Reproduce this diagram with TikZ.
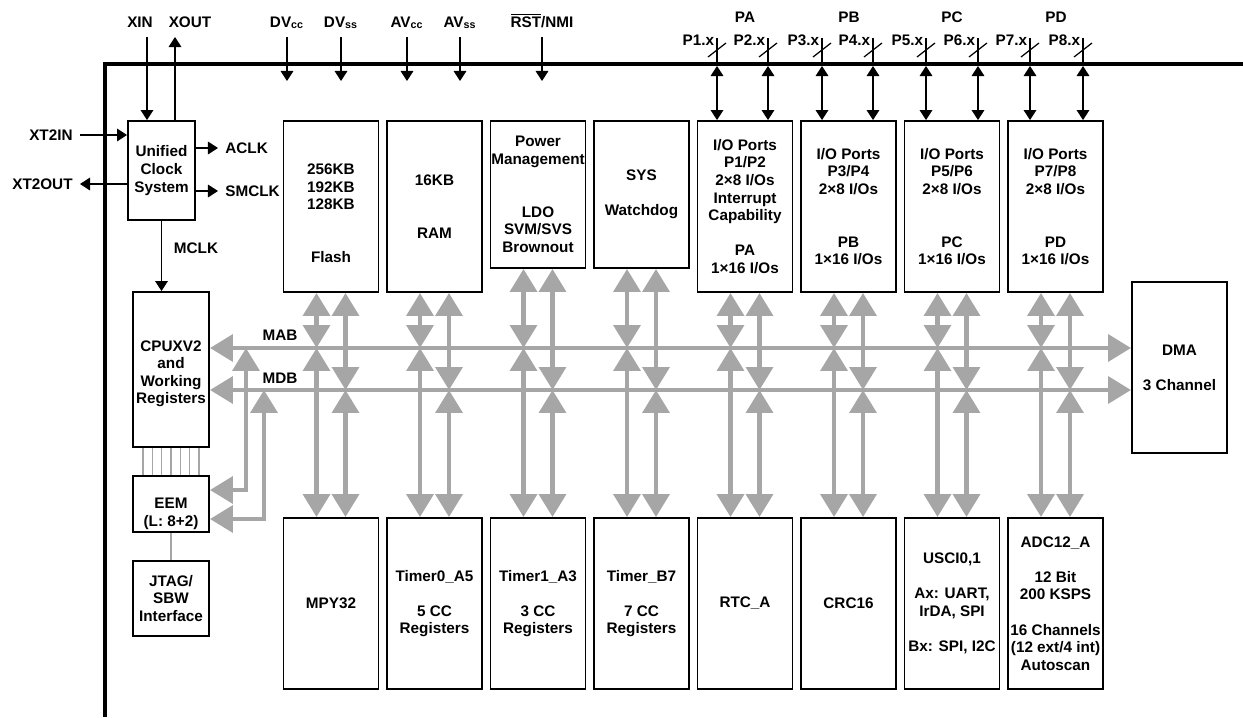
\documentclass[tikz,border=0pt]{standalone}
\usepackage{fontspec}
\setmainfont{Liberation Sans}
\usetikzlibrary{arrows.meta}
\definecolor{busgray}{RGB}{166,166,166}

\begin{document}
\begin{tikzpicture}[x = 0.02cm, y = -0.02cm, font = \fontsize{8.7}{10}\selectfont\bfseries]
\tikzstyle{blk}=[draw, line width = 1.1pt, align = center, inner sep = 0pt, minimum width = 1.9cm, minimum height = 3.42cm]
\tikzstyle{lbl}=[inner sep = 1.5pt]
\tikzstyle{arr}=[line width = 0.7pt, -{Triangle[length = 5.7pt, width = 7.2pt]}]
\tikzstyle{dblarr}=[line width = 0.7pt, {Triangle[length = 5.7pt, width = 7.2pt]}-{Triangle[length = 5.7pt, width = 7.2pt]}]
\tikzstyle{bus}=[draw = busgray, line width = 2.8pt, {Triangle[length = 13pt, width = 15pt]}-{Triangle[length = 13pt, width = 15pt]}]
\tikzstyle{dbgline}=[draw = busgray, line width = 0.6pt]
\useasboundingbox (0,0) rectangle (1243,717);
% chip outline
\draw[line width = 2.3pt] (105,717) -- (105,64) -- (1243,64);
\coordinate (chipin) at (0,66);
\coordinate (pintop) at (0,37);
\coordinate (pintip) at (0,81);
\coordinate (mab) at (0,348);
\coordinate (mdb) at (0,390);
% clock
\node[blk, minimum width = 1.34cm, minimum height = 1.98cm] (clk) at (161.5,170.5) {Unified\\Clock\\System};
\node[lbl, anchor = base] (xin) at (140,27) {XIN};
\node[lbl, anchor = base] (xout) at (190,27) {XOUT};
\coordinate (xinpin) at (147,37);
\coordinate (xoutpin) at (175,37);
\draw[arr] (xinpin) -- (xinpin |- clk.north);
\draw[arr] (xoutpin |- clk.north) -- (xoutpin);
\node[lbl, inner sep = 4pt, anchor = east] (xt2in) at (80,135) {XT2IN};
\node[lbl, inner sep = 4pt, anchor = east] (xt2out) at (80,184) {XT2OUT};
\draw[arr] (xt2in) -- (clk.west |- xt2in);
\draw[arr] (clk.west |- xt2out) -- (xt2out);
\node[lbl, inner sep = 4pt, anchor = west] (aclk) at (218,148) {ACLK};
\node[lbl, inner sep = 4pt, anchor = west] (smclk) at (218,191) {SMCLK};
\draw[arr] (clk.east |- aclk) -- (aclk);
\draw[arr] (clk.east |- smclk) -- (smclk);
% cpu side
\node[blk, minimum width = 1.52cm, minimum height = 3.1cm] (cpu) at (171,369.5) {\mbox{}\\[1pt]CPUXV2\\and\\Working\\Registers};
\node[blk, minimum width = 1.52cm, minimum height = 1.12cm] (eem) at (171,504) {\mbox{}\\[7pt]EEM\\(L: 8+2)};
\node[blk, minimum width = 1.52cm, minimum height = 1.5cm] (jtag) at (171,598.5) {JTAG/\\SBW\\Interface};
\node[lbl] (mclk) at (196,248) {MCLK};
\draw[arr] (clk.south) -- (clk.south |- cpu.north);
\foreach \k in {-3,...,3}
  \draw[dbgline] ([xshift = \k*0.1867cm]cpu.south) -- ([xshift = \k*0.1867cm]eem.north);
\draw[dbgline] (eem) -- (jtag);
% top row
\node[blk] (flash) at (331,206.5) {\mbox{}\\[3.7pt]256KB\\192KB\\128KB\\[20pt]Flash};
\node[blk] (ram) at (434.5,206.5) {16KB\\[20pt]RAM};
\node[blk, minimum height = 2.94cm] (pmm) at (538,194.5) {Power\\Management\\[20pt]LDO\\SVM/SVS\\Brownout};
\node[blk, minimum height = 2.94cm] (sys) at (641.5,194.5) {SYS\\[10pt]Watchdog};
\node[blk] (ioa) at (745,206.5) {I/O Ports\\P1/P2\\2×8 I/Os\\Interrupt\\Capability\\[10pt]PA\\1×16 I/Os};
\node[blk] (iob) at (848.5,206.5) {I/O Ports\\P3/P4\\2×8 I/Os\\[20pt]PB\\1×16 I/Os};
\node[blk] (ioc) at (952,206.5) {I/O Ports\\P5/P6\\2×8 I/Os\\[20pt]PC\\1×16 I/Os};
\node[blk] (iod) at (1055.5,206.5) {I/O Ports\\P7/P8\\2×8 I/Os\\[20pt]PD\\1×16 I/Os};
% bottom row
\node[blk] (mpy) at (331,603.5) {MPY32};
\node[blk] (tma) at (434.5,603.5) {Timer0\_A5\\[10pt]5 CC\\Registers};
\node[blk] (tmb) at (538,603.5) {Timer1\_A3\\[10pt]3 CC\\Registers};
\node[blk] (tbb) at (641.5,603.5) {Timer\_B7\\[10pt]7 CC\\Registers};
\node[blk] (rtc) at (745,603.5) {RTC\_A};
\node[blk] (crc) at (848.5,603.5) {CRC16};
\node[blk] (usci) at (952,603.5) {USCI0,1\\[10pt]Ax: UART,\\IrDA, SPI\\[10pt]Bx: SPI, I2C};
\node[blk] (adc) at (1055.5,603.5) {ADC12\_A\\[10pt]12 Bit\\200 KSPS\\[10pt]16 Channels\\(12 ext/4 int)\\Autoscan};
\node[blk] (dma) at (1179.5,367.5) {DMA\\[10pt]3 Channel};
% supply and reset pins
\node[lbl, anchor = base] (dvcc) at (287,27) {DV\textsubscript{cc}};
\node[lbl, anchor = base] (dvss) at (341,27) {DV\textsubscript{ss}};
\node[lbl, anchor = base] (avcc) at (407,27) {AV\textsubscript{cc}};
\node[lbl, anchor = base] (avss) at (460,27) {AV\textsubscript{ss}};
\node[lbl, anchor = base] (rst) at (542,27) {$\overline{\mbox{RST}}$/NMI};
\foreach \p in {dvcc, dvss, avcc, avss, rst}
  \draw[arr] (\p |- pintop) -- (\p |- pintip);
% ports
\node[lbl, anchor = base] (pa) at (745,22) {PA};
\node[lbl, anchor = base] (pb) at (849,22) {PB};
\node[lbl, anchor = base] (pc) at (952,22) {PC};
\node[lbl, anchor = base] (pd) at (1056,22) {PD};
\foreach \n/\px/\io in {1/717/ioa, 2/768/ioa, 3/822/iob, 4/873/iob, 5/926/ioc, 6/978/ioc, 7/1030/iod, 8/1083/iod} {
  \coordinate (p\n) at (\px,38);
  \node[lbl, anchor = base east] (pl\n) at (\px,45) {P\n.x};
  \draw[line width = 0.7pt] (p\n) -- (p\n |- chipin);
  \draw[line width = 0.7pt] ([shift = {(-9,19)}]p\n) -- ([shift = {(9,5)}]p\n);
  \draw[dblarr] (p\n |- chipin) -- (p\n |- \io.north);
}
% buses
\node[lbl] (mablbl) at (280,335) {MAB};
\node[lbl] (mdblbl) at (280,378) {MDB};
\draw[bus] (cpu.east |- mab) -- (dma.west |- mab);
\draw[bus] (cpu.east |- mdb) -- (dma.west |- mdb);
\foreach \t/\b in {flash/mpy, ram/tma, pmm/tmb, sys/tbb, ioa/rtc, iob/crc, ioc/usci, iod/adc} {
  \draw[bus] ([xshift = -0.29cm]\t.south) -- ([xshift = -0.29cm]\t.south |- mab);
  \draw[bus] ([xshift = -0.29cm]\b.north |- mab) -- ([xshift = -0.29cm]\b.north);
  \draw[bus] ([xshift = 0.29cm]\t.south) -- ([xshift = 0.29cm]\t.south |- mdb);
  \draw[bus] ([xshift = 0.29cm]\b.north |- mdb) -- ([xshift = 0.29cm]\b.north);
}
\coordinate (eema) at (246,490);
\coordinate (eemb) at (264,519);
\draw[bus] (eem.east |- eema) -- (eema) -- (eema |- mab);
\draw[bus] (eem.east |- eemb) -- (eemb) -- (eemb |- mdb);
\end{tikzpicture}
\end{document}
